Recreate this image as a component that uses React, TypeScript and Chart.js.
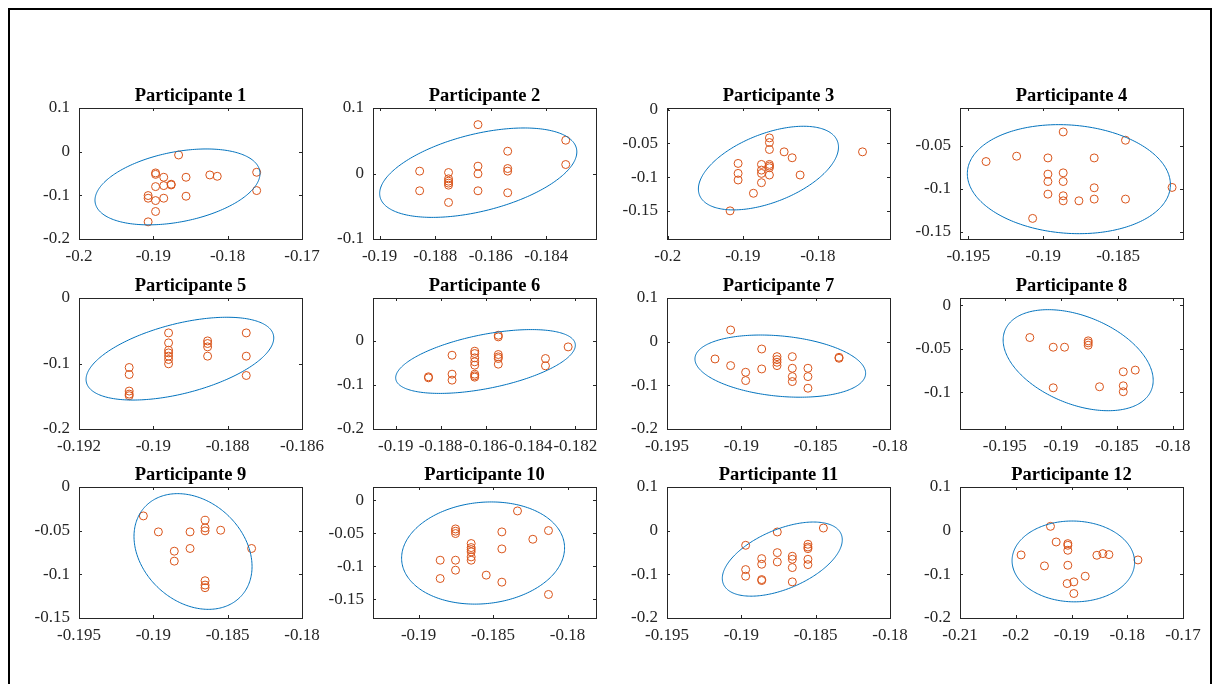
import { useEffect, useRef } from "react";
import { Chart, registerables } from "chart.js";

Chart.register(...registerables);

// ---- Panel titles ----
const titles = [
  "Participante 1", "Participante 2", "Participante 3", "Participante 4",
  "Participante 5", "Participante 6", "Participante 7", "Participante 8",
  "Participante 9", "Participante 10", "Participante 11", "Participante 12",
];

// ---- Scatter values per participant ----
const p1x = [-0.1866, -0.1897, -0.1897, -0.1886, -0.1856, -0.1824, -0.1814, -0.1761, -0.1761, -0.1897, -0.1886, -0.1876, -0.1876, -0.1907, -0.1907, -0.1897, -0.1886, -0.1856, -0.1897, -0.1907];
const p1y = [-0.0076, -0.0487, -0.052, -0.0586, -0.0586, -0.0533, -0.0564, -0.0472, -0.0891, -0.08, -0.0777, -0.0746, -0.0762, -0.1005, -0.1066, -0.112, -0.1066, -0.102, -0.137, -0.1607];

const p2x = [-0.18856, -0.18856, -0.18752, -0.18752, -0.18752, -0.18752, -0.18752, -0.18752, -0.18646, -0.18646, -0.18646, -0.18646, -0.18539, -0.18539, -0.18539, -0.18539, -0.1833, -0.1833];
const p2y = [0.0036, -0.0264, 0.0015, -0.0081, -0.0117, -0.0147, -0.0178, -0.0442, 0.0746, 0.0112, -0.0005, -0.0264, 0.034, 0.0076, 0.0036, -0.0294, 0.0508, 0.0137];

const p3x = [-0.1917, -0.19063, -0.19063, -0.19063, -0.18859, -0.18752, -0.18752, -0.18752, -0.18752, -0.18646, -0.18646, -0.18646, -0.18646, -0.18646, -0.18646, -0.18646, -0.1845, -0.18343, -0.18237, -0.17406];
const p3y = [-0.1502, -0.0798, -0.0946, -0.1044, -0.1241, -0.0813, -0.0897, -0.0946, -0.1084, -0.0419, -0.0488, -0.0591, -0.0813, -0.0837, -0.0862, -0.097, -0.0626, -0.0714, -0.097, -0.0626];

const p4x = [-0.19382, -0.19178, -0.19071, -0.18969, -0.18969, -0.18969, -0.18969, -0.18867, -0.18867, -0.18867, -0.18867, -0.18867, -0.18762, -0.1866, -0.1866, -0.1866, -0.18451, -0.18451, -0.1814];
const p4y = [-0.0682, -0.062, -0.1345, -0.064, -0.0829, -0.0915, -0.1062, -0.0337, -0.0814, -0.0915, -0.1081, -0.114, -0.114, -0.064, -0.0988, -0.112, -0.0434, -0.112, -0.0984];

const p5x = [-0.19065, -0.19065, -0.19065, -0.19065, -0.19065, -0.18959, -0.18959, -0.18959, -0.18959, -0.18959, -0.18959, -0.18959, -0.18854, -0.18854, -0.18854, -0.18854, -0.1875, -0.1875, -0.1875];
const p5y = [-0.1061, -0.1168, -0.1421, -0.1467, -0.1492, -0.0533, -0.0685, -0.0797, -0.0838, -0.0888, -0.0939, -0.1005, -0.0655, -0.0695, -0.0746, -0.0888, -0.0533, -0.0888, -0.1183];

const p6x = [-0.18854, -0.18854, -0.18749, -0.18749, -0.18749, -0.18648, -0.18648, -0.18648, -0.18648, -0.18648, -0.18648, -0.18648, -0.18648, -0.18543, -0.18543, -0.18543, -0.18543, -0.18543, -0.18543, -0.18333, -0.18333, -0.18232];
const p6y = [-0.0815, -0.0838, -0.0325, -0.0755, -0.0891, -0.0234, -0.0287, -0.0385, -0.0475, -0.0551, -0.0755, -0.0792, -0.0823, 0.0128, 0.0091, -0.0309, -0.0362, -0.04, -0.0528, -0.04, -0.0566, -0.0136];

const p7x = [-0.19177, -0.19072, -0.19072, -0.18971, -0.18971, -0.18863, -0.18863, -0.1876, -0.1876, -0.1876, -0.1876, -0.18657, -0.18657, -0.18657, -0.18657, -0.18552, -0.18552, -0.18552, -0.18343, -0.18343];
const p7y = [-0.0396, 0.0267, -0.0548, -0.0701, -0.0891, -0.0168, -0.0625, -0.0343, -0.0411, -0.0472, -0.0548, -0.0343, -0.0609, -0.08, -0.0914, -0.0609, -0.08, -0.1066, -0.0358, -0.038];

const p8x = [-0.19277, -0.19068, -0.18967, -0.19068, -0.18756, -0.18756, -0.18756, -0.18655, -0.18443, -0.18443, -0.18443, -0.18336];
const p8y = [-0.037, -0.0481, -0.0481, -0.0947, -0.0408, -0.0431, -0.0458, -0.0935, -0.0763, -0.0924, -0.0992, -0.0744];

const p9x = [-0.19067, -0.18966, -0.18859, -0.18859, -0.18753, -0.18753, -0.18652, -0.18652, -0.18652, -0.18652, -0.18652, -0.18652, -0.18547, -0.18339];
const p9y = [-0.0331, -0.0514, -0.0735, -0.0849, -0.0514, -0.0704, -0.0381, -0.0468, -0.0502, -0.1073, -0.1123, -0.1153, -0.0495, -0.0704];

const p10x = [-0.18855, -0.18855, -0.18752, -0.18752, -0.18752, -0.18752, -0.18752, -0.18647, -0.18647, -0.18647, -0.18647, -0.18647, -0.18647, -0.18546, -0.18441, -0.18441, -0.18441, -0.18336, -0.18233, -0.18128, -0.18128];
const p10y = [-0.0906, -0.1183, -0.0433, -0.0468, -0.0503, -0.0906, -0.1057, -0.0654, -0.0715, -0.0745, -0.078, -0.0856, -0.0906, -0.1132, -0.0478, -0.0735, -0.1238, -0.0161, -0.0589, -0.0458, -0.1424];

const p11x = [-0.18971, -0.18971, -0.18971, -0.18863, -0.18863, -0.18863, -0.18863, -0.18758, -0.18758, -0.18758, -0.18657, -0.18657, -0.18657, -0.18657, -0.18552, -0.18552, -0.18552, -0.18552, -0.18552, -0.18448];
const p11y = [-0.0335, -0.0891, -0.1043, -0.064, -0.0769, -0.112, -0.1142, -0.003, -0.0503, -0.0716, -0.0586, -0.0655, -0.0845, -0.1173, -0.0312, -0.0373, -0.0411, -0.0655, -0.0777, 0.0061];

const p12x = [-0.19904, -0.19485, -0.19377, -0.19275, -0.19066, -0.19066, -0.19066, -0.19066, -0.19078, -0.18958, -0.18958, -0.18754, -0.18545, -0.18437, -0.18329, -0.17808];
const p12y = [-0.0556, -0.0807, 0.0099, -0.0259, -0.0297, -0.0335, -0.0449, -0.0792, -0.1211, -0.1173, -0.1439, -0.1043, -0.0564, -0.0526, -0.0548, -0.067];

const seriesX = [p1x, p2x, p3x, p4x, p5x, p6x, p7x, p8x, p9x, p10x, p11x, p12x];
const seriesY = [p1y, p2y, p3y, p4y, p5y, p6y, p7y, p8y, p9y, p10y, p11y, p12y];

// ---- Axis limits and ticks ----
const xLimits = [
  [-0.2, -0.17], [-0.19024, -0.18221], [-0.2001, -0.1704], [-0.19556, -0.18067],
  [-0.192, -0.186], [-0.19101, -0.18108], [-0.195, -0.18], [-0.199, -0.1791],
  [-0.195, -0.18], [-0.19306, -0.17809], [-0.195, -0.18], [-0.21, -0.17],
];
const yLimits = [
  [-0.2, 0.1], [-0.1, 0.1], [-0.192, 0.0025], [-0.1585, -0.0058],
  [-0.2, 0], [-0.2, 0.0974], [-0.2, 0.1], [-0.142, 0.0084],
  [-0.15, 0], [-0.178, 0.0201], [-0.2, 0.1], [-0.2, 0.1],
];
const xTicks = [
  [-0.2, -0.19, -0.18, -0.17], [-0.19, -0.188, -0.186, -0.184], [-0.2, -0.19, -0.18], [-0.195, -0.19, -0.185],
  [-0.192, -0.19, -0.188, -0.186], [-0.19, -0.188, -0.186, -0.184, -0.182], [-0.195, -0.19, -0.185, -0.18], [-0.195, -0.19, -0.185, -0.18],
  [-0.195, -0.19, -0.185, -0.18], [-0.19, -0.185, -0.18], [-0.195, -0.19, -0.185, -0.18], [-0.21, -0.2, -0.19, -0.18, -0.17],
];
const yTicks = [
  [-0.2, -0.1, 0, 0.1], [-0.1, 0, 0.1], [-0.15, -0.1, -0.05, 0], [-0.15, -0.1, -0.05],
  [-0.2, -0.1, 0], [-0.2, -0.1, 0], [-0.2, -0.1, 0, 0.1], [-0.1, -0.05, 0],
  [-0.15, -0.1, -0.05, 0], [-0.15, -0.1, -0.05, 0], [-0.2, -0.1, 0, 0.1], [-0.2, -0.1, 0, 0.1],
];

// ---- Confidence ellipse parameters (centre, half extents, phase) ----
const ellipseCx = [-0.18675, -0.18645, -0.18659, -0.18829, -0.189285, -0.186, -0.18738, -0.188455, -0.18733, -0.18567, -0.187245, -0.18967];
const ellipseCy = [-0.0807, 0.00125, -0.0867, -0.08875, -0.0926, -0.04675, -0.056, -0.063, -0.07385, -0.07975, -0.0651, -0.07045];
const ellipseHalfX = [0.0111, 0.00355, 0.00933, 0.00678, 0.002525, 0.004, 0.00574, 0.006695, 0.00397, 0.00547, 0.004035, 0.01099];
const ellipseHalfY = [0.0869, 0.06825, 0.0621, 0.06355, 0.0632, 0.07245, 0.0712, 0.058, 0.06625, 0.07725, 0.0849, 0.09255];
const ellipsePhase = [1.2132, 1.0872, 1.0472, 1.671, 1.0472, 1.0357, 1.8029, 1.9823, 1.8338, 1.4706, 1.0239, 1.5908];

// ---- Styling / layout ----
const SERIF = '"Liberation Serif", "Times New Roman", Times, serif';
const AXIS_COLOR = "#262626";
const POINT_COLOR = "#D95319";
const ELLIPSE_COLOR = "#0072BD";
const BOX_W = 223;
const BOX_H = 131;
const COL_LEFT = [79, 373, 667, 960];
const ROW_TOP = [108, 298, 487];
const PAD_L = 62;
const PAD_T = 30;
const PAD_R = 30;
const PAD_B = 30;
const FRAME_ORIGIN = 10; // frame at 8px + 2px border

const fmt = (v: number) => String(parseFloat(Number(v).toFixed(4)));

const axesPlugin = {
  id: "matlabAxes",
  afterDatasetsDraw(chart: any, _args: any, opts: any) {
    const { ctx, chartArea } = chart;
    const { left, top, right, bottom } = chartArea;
    const xs = chart.scales.x;
    const ys = chart.scales.y;
    const i = opts.index;

    // ellipse
    ctx.save();
    ctx.beginPath();
    const n = 240;
    for (let k = 0; k <= n; k++) {
      const t = (k / n) * Math.PI * 2;
      const dx = ellipseCx[i] + ellipseHalfX[i] * Math.cos(t);
      const dy = ellipseCy[i] + ellipseHalfY[i] * Math.cos(t - ellipsePhase[i]);
      const px = xs.getPixelForValue(dx);
      const py = ys.getPixelForValue(dy);
      if (k === 0) ctx.moveTo(px, py);
      else ctx.lineTo(px, py);
    }
    ctx.strokeStyle = ELLIPSE_COLOR;
    ctx.lineWidth = 1;
    ctx.stroke();
    ctx.restore();

    // box with inward ticks on all sides
    ctx.save();
    ctx.strokeStyle = AXIS_COLOR;
    ctx.lineWidth = 1;
    ctx.strokeRect(left + 0.5, top + 0.5, right - left, bottom - top);
    const tl = 3;
    ctx.beginPath();
    for (const v of xTicks[i]) {
      const px = Math.round(xs.getPixelForValue(v)) + 0.5;
      ctx.moveTo(px, bottom);
      ctx.lineTo(px, bottom - tl);
      ctx.moveTo(px, top);
      ctx.lineTo(px, top + tl);
    }
    for (const v of yTicks[i]) {
      const py = Math.round(ys.getPixelForValue(v)) + 0.5;
      ctx.moveTo(left, py);
      ctx.lineTo(left + tl, py);
      ctx.moveTo(right, py);
      ctx.lineTo(right - tl, py);
    }
    ctx.stroke();

    // title
    ctx.fillStyle = "#000";
    ctx.font = `bold 18.5px ${SERIF}`;
    ctx.textAlign = "center";
    ctx.textBaseline = "alphabetic";
    ctx.fillText(titles[i], (left + right) / 2, top - 7);
    ctx.restore();
  },
};

function Panel({ index }: { index: number }) {
  const ref = useRef<HTMLCanvasElement | null>(null);

  useEffect(() => {
    if (!ref.current) return;
    const xsArr = seriesX[index];
    const ysArr = seriesY[index];
    const tickFont = { family: SERIF, size: 17 };
    const chart = new Chart(ref.current, {
      type: "scatter",
      data: {
        datasets: [
          {
            data: xsArr.map((x, k) => ({ x, y: ysArr[k] })),
            showLine: false,
            pointStyle: "circle",
            pointRadius: 4,
            pointHoverRadius: 4,
            pointBorderWidth: 1,
            borderColor: POINT_COLOR,
            backgroundColor: "rgba(0,0,0,0)",
          },
        ],
      },
      options: {
        responsive: false,
        animation: false,
        events: [],
        layout: { padding: { left: 0, top: PAD_T, right: PAD_R, bottom: 0 } },
        plugins: {
          legend: { display: false },
          tooltip: { enabled: false },
          title: { display: false },
          matlabAxes: { index },
        } as any,
        scales: {
          x: {
            type: "linear",
            min: xLimits[index][0],
            max: xLimits[index][1],
            grid: { display: false, drawTicks: false },
            border: { display: false },
            ticks: {
              autoSkip: false,
              maxRotation: 0,
              minRotation: 0,
              padding: 7,
              color: AXIS_COLOR,
              font: tickFont,
              callback: (v: any) => fmt(v),
            },
            afterBuildTicks: (s: any) => {
              s.ticks = xTicks[index].map((v) => ({ value: v }));
            },
            afterFit: (s: any) => {
              s.height = PAD_B;
            },
          },
          y: {
            type: "linear",
            min: yLimits[index][0],
            max: yLimits[index][1],
            grid: { display: false, drawTicks: false },
            border: { display: false },
            ticks: {
              autoSkip: false,
              padding: 9,
              color: AXIS_COLOR,
              font: tickFont,
              callback: (v: any) => fmt(v),
            },
            afterBuildTicks: (s: any) => {
              s.ticks = yTicks[index].map((v) => ({ value: v }));
            },
            afterFit: (s: any) => {
              s.width = PAD_L;
            },
          },
        },
      } as any,
      plugins: [axesPlugin],
    });
    return () => chart.destroy();
  }, [index]);

  const col = index % 4;
  const row = Math.floor(index / 4);
  const w = PAD_L + BOX_W + PAD_R;
  const h = PAD_T + BOX_H + PAD_B;
  return (
    <canvas
      ref={ref}
      width={w}
      height={h}
      style={{
        position: "absolute",
        left: COL_LEFT[col] - PAD_L - FRAME_ORIGIN,
        top: ROW_TOP[row] - PAD_T - FRAME_ORIGIN,
        width: w,
        height: h,
      }}
    />
  );
}

export default function App() {
  return (
    <div
      style={{
        position: "fixed",
        left: 8,
        top: 8,
        width: 1200,
        height: 690,
        border: "2px solid #000",
        background: "#fff",
      }}
    >
      {titles.map((_, i) => (
        <Panel key={i} index={i} />
      ))}
    </div>
  );
}
